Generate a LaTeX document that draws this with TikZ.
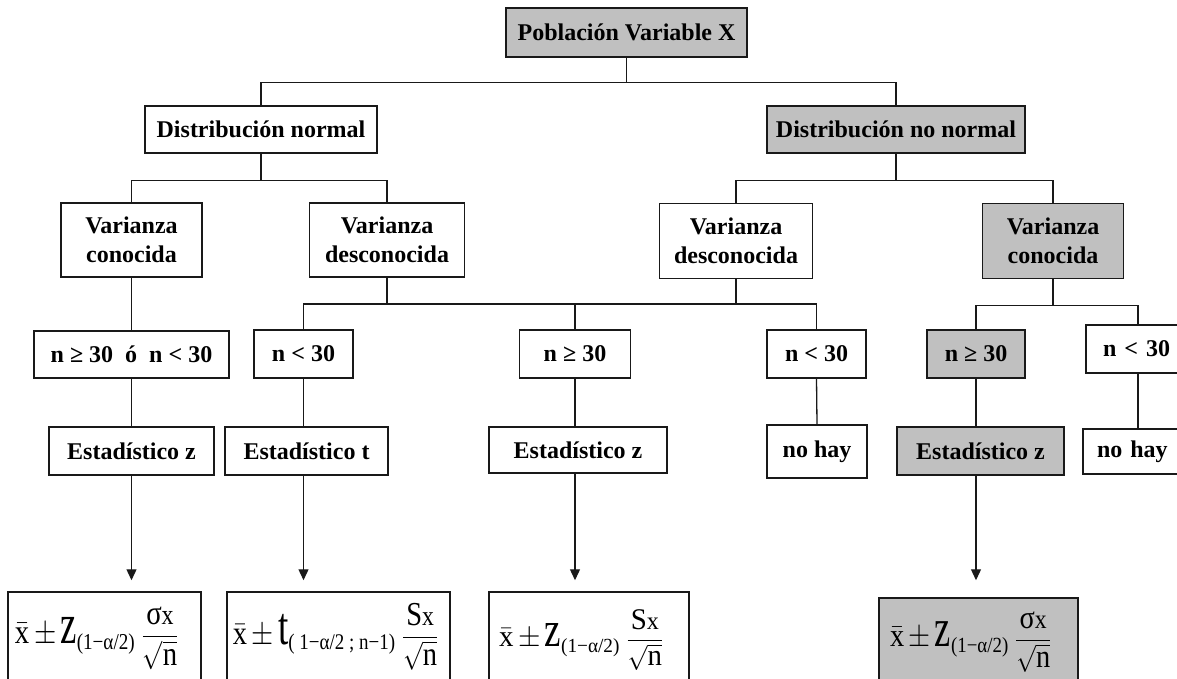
\documentclass[tikz,border=0pt]{standalone}
\usepackage{amsmath}
\usepackage{graphicx}
\usepackage{fontspec}
\setmainfont{Liberation Serif}
\usetikzlibrary{arrows.meta}
\definecolor{boxgray}{RGB}{192,192,192}
\definecolor{linec}{RGB}{25,25,25}
\newcommand{\bigz}{\text{\large\scalebox{1.28}[1.67]{z}}}
\newcommand{\bigt}{\text{\large\scalebox{1.3}[1.6]{t}}}
\newcommand{\xpm}{\text{\large$\bar{\text{x}}\,{\pm}$}\,}
\begin{document}
\begin{tikzpicture}[x=1pt,y=-1pt,
  box/.style={draw=linec, line width=1.5pt, fill=white, inner sep=0pt, align=center,
    font=\fontsize{24}{29}\selectfont\bfseries},
  gbox/.style={box, fill=boxgray},
  fbox/.style={draw=linec, line width=1.5pt, fill=white, inner sep=0pt},
  gfbox/.style={fbox, fill=boxgray},
  conn/.style={draw=linec, line width=1.3pt},
  arr/.style={conn, -{Triangle[length=11pt,width=10pt]}},
  formula/.style={inner sep=0pt}]
\useasboundingbox (0,0) rectangle (1177,679);
\clip (0,0) rectangle (1177,679);

% level 0
\node[gbox, minimum width=241pt, minimum height=49pt] (pop) at (626.5,32.5) {Población Variable X};
% level 1
\node[box, minimum width=232pt, minimum height=47pt] (dn) at (261,129.5) {Distribución normal};
\node[gbox, minimum width=258pt, minimum height=47pt] (dnn) at (896,129.5) {Distribución no normal};
% level 2
\node[box, minimum width=141pt, minimum height=74pt] (vc) at (131.5,240) {Varianza\\conocida};
\node[box, minimum width=155pt, minimum height=74pt] (vdL) at (387,240) {Varianza\\desconocida};
\node[box, minimum width=153pt, minimum height=75pt] (vdR) at (736,241) {Varianza\\desconocida};
\node[gbox, minimum width=141pt, minimum height=75pt] (vcR) at (1053,241) {Varianza\\conocida};
% level 3
\node[box, minimum width=195pt, minimum height=47pt] (n1) at (131.5,354.5) {n ≥ 30\ \ ó\ \ n < 30};
\node[box, minimum width=99pt, minimum height=48pt] (n2) at (303.5,354) {n < 30};
\node[box, minimum width=111pt, minimum height=48pt] (n3) at (575,354) {n ≥ 30};
\node[box, minimum width=99pt, minimum height=48pt] (n4) at (816.5,354) {n < 30};
\node[gbox, minimum width=98pt, minimum height=48pt] (n5) at (976,354) {n ≥ 30};
\node[box, minimum width=104pt, minimum height=48pt, text width=104pt, align=left] (n6) at (1138,349) {\hspace*{17pt}n < 30};
% level 4
\node[box, minimum width=165pt, minimum height=48pt] (e1) at (131.5,451) {Estadístico z};
\node[box, minimum width=163pt, minimum height=48pt] (e2) at (306.5,451) {Estadístico t};
\node[box, minimum width=178pt, minimum height=46pt] (e3) at (578,450) {Estadístico z};
\node[box, minimum width=100pt, minimum height=53pt] (nh1) at (817,451.5) {no hay};
\node[gbox, minimum width=167pt, minimum height=48pt] (e4) at (980.5,451) {Estadístico z};
\node[box, minimum width=110pt, minimum height=45pt, text width=110pt, align=left] (nh2) at (1138,451.5) {\hspace*{14pt}no hay};
% formula boxes
\node[fbox, minimum width=193pt, minimum height=100pt] (f1box) at (104.5,642) {};
\node[fbox, minimum width=223pt, minimum height=100pt] (f2box) at (338.5,642) {};
\node[fbox, minimum width=200pt, minimum height=100pt] (f3box) at (589,642) {};
\node[gfbox, minimum width=199pt, minimum height=100pt] (f4box) at (978.5,648) {};
% formulas
\node[formula] (f1) at (97.5,638.5) {\resizebox*{165pt}{63pt}{$\xpm\bigz_{\text{\footnotesize (1−α/2)}}\,\dfrac{\text{\large σ{\normalsize x}}}{\sqrt{\text{\large n}}}$}};
\node[formula] (f2) at (336.5,636.5) {\resizebox*{207pt}{67pt}{$\xpm\bigt_{\text{\footnotesize ( 1−α/2 ; n−1)}}\,\dfrac{\text{\large S{\normalsize x}}}{\sqrt{\text{\large n}}}$}};
\node[formula] (f3) at (582,640) {\resizebox*{166pt}{60pt}{$\xpm\bigz_{\text{\footnotesize (1−α/2)}}\,\dfrac{\text{\large S{\normalsize x}}}{\sqrt{\text{\large n}}}$}};
\node[formula] (f4) at (971.5,642) {\resizebox*{163pt}{60pt}{$\xpm\bigz_{\text{\footnotesize (1−α/2)}}\,\dfrac{\text{\large σ{\normalsize x}}}{\sqrt{\text{\large n}}}$}};

% connectors
\draw[conn] (pop.south) -- ++(0,25) -| (dn.north);
\draw[conn] (pop.south) -- ++(0,25) -| (dnn.north);
\draw[conn] (dn.south) -- ++(0,27) -| (vc.north);
\draw[conn] (dn.south) -- ++(0,27) -| (vdL.north);
\draw[conn] (dnn.south) -- ++(0,27) -| (vdR.north);
\draw[conn] (dnn.south) -- ++(0,27) -| (vcR.north);
\coordinate (barD) at (575,304);
\draw[conn] (vdL.south) -- (vdL.south |- barD);
\draw[conn] (vdR.south) -- (vdR.south |- barD);
\draw[conn] (n2.north) |- (barD) -| (n4.north);
\draw[conn] (barD) -- (n3.north);
\draw[conn] (vcR.south) -- ++(0,26) -| (n5.north);
\draw[conn] (vcR.south) -- ++(0,26) -| (n6.north);
\draw[conn] (vc.south) -- (n1.north);
\draw[conn] (n1.south) -- (e1.north);
\draw[conn] (n2.south) -- (n2.south |- e2.north);
\draw[conn] (n3.south) -- (n3.south |- e3.north);
\draw[conn] (n4.south) -- (nh1.north);
\draw[conn] (n5.south) -- (n5.south |- e4.north);
\draw[conn] (n6.south) -- (nh2.north);
% arrows
\draw[arr, shorten >=11pt] (e1.south) -- (e1.south |- f1box.north);
\draw[arr, shorten >=11pt] (e2.south -| n2.south) -- (f2box.north -| n2.south);
\draw[arr, shorten >=11pt] (e3.south -| n3.south) -- (f3box.north -| n3.south);
\draw[arr, shorten >=17pt] (e4.south -| n5.south) -- (f4box.north -| n5.south);
\end{tikzpicture}
\end{document}
